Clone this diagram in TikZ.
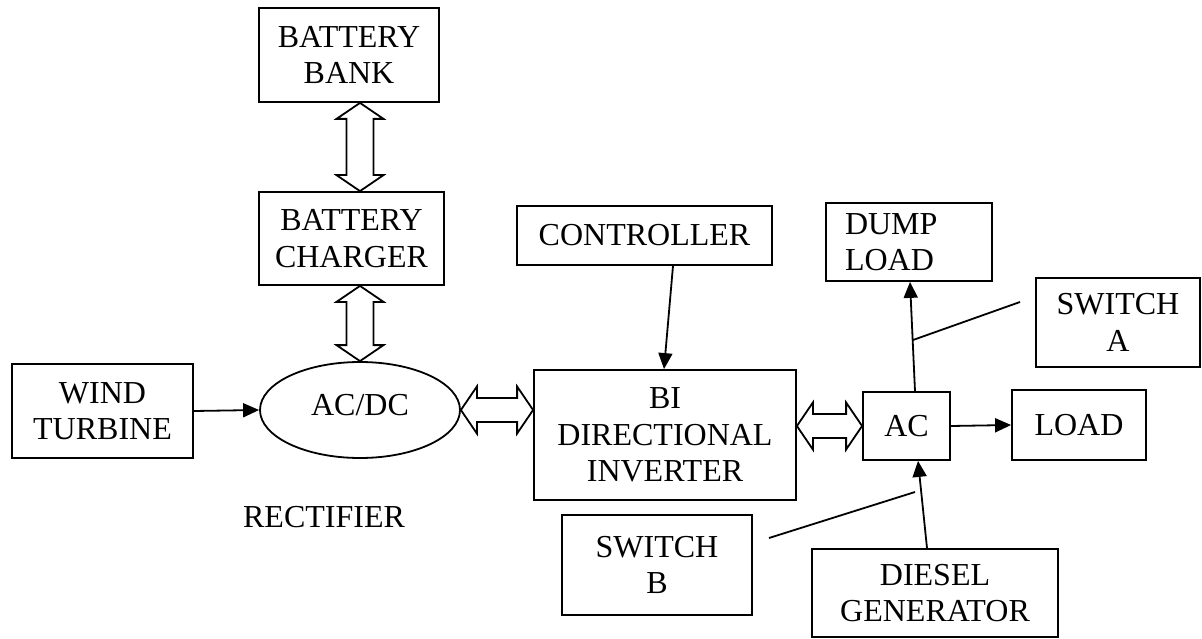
\documentclass[tikz,border=0pt]{standalone}
\usepackage{fontspec}
\setmainfont{Liberation Serif}
\usetikzlibrary{arrows.meta,shapes.geometric,calc}
\tikzset{
  box/.style={draw, line width=1.8pt, rectangle, inner sep=0pt, align=center,
    font=\fontsize{32}{36.5}\selectfont},
  oval/.style={draw, line width=1.8pt, ellipse, inner sep=0pt,
    font=\fontsize{32}{36.5}\selectfont},
  lbl/.style={inner sep=0pt, font=\fontsize{32}{36.5}\selectfont},
  arr/.style={line width=1.8pt, -{Triangle[length=16pt,width=14pt]}},
  plain/.style={line width=1.8pt},
  blk/.style={draw, line width=1.8pt, fill=white, line join=miter}
}
\newcommand{\vdbl}[2]{%
  \draw[blk] let \p1=#1, \p2=#2 in
    (\x1,\y1) -- (\x1+23.5pt,\y1-16pt) -- (\x1+13.5pt,\y1-16pt) -- (\x1+13.5pt,\y2+16pt)
    -- (\x1+23.5pt,\y2+16pt) -- (\x1,\y2) -- (\x1-23.5pt,\y2+16pt) -- (\x1-13.5pt,\y2+16pt)
    -- (\x1-13.5pt,\y1-16pt) -- (\x1-23.5pt,\y1-16pt) -- cycle;}
\newcommand{\hdbl}[2]{%
  \draw[blk] let \p1=#1, \p2=#2 in
    (\x1,\y1) -- (\x1+16pt,\y1+23.5pt) -- (\x1+16pt,\y1+12pt) -- (\x2-16pt,\y1+12pt)
    -- (\x2-16pt,\y1+23.5pt) -- (\x2,\y1) -- (\x2-16pt,\y1-23.5pt) -- (\x2-16pt,\y1-12pt)
    -- (\x1+16pt,\y1-12pt) -- (\x1+16pt,\y1-23.5pt) -- cycle;}
\begin{document}
\begin{tikzpicture}[x=1pt,y=-1pt]
\useasboundingbox (0,0) rectangle (1202,639);
% boxes
\node[box, minimum width=180pt, minimum height=94pt] (bank) at (349,55) {BATTERY\\BANK};
\node[box, minimum width=185pt, minimum height=93pt] (charger) at (351.5,238.5) {BATTERY\\CHARGER};
\node[box, minimum width=181pt, minimum height=94pt] (wind) at (102.5,411) {WIND\\TURBINE};
\node[oval, minimum width=200pt, minimum height=96pt] (acdc) at (360,410) {};
\node[lbl] (acdctxt) at (360,405) {AC/DC};
\node[lbl] (rect) at (324,517) {RECTIFIER};
\node[box, minimum width=255pt, minimum height=59pt] (ctrl) at (644.5,235.5) {CONTROLLER};
\node[box, minimum width=262pt, minimum height=130pt] (inv) at (665,435) {BI\\DIRECTIONAL\\INVERTER};
\node[box, minimum width=87pt, minimum height=68pt] (ac) at (906.5,426) {AC};
\node[box, minimum width=134pt, minimum height=70pt] (load) at (1079,425) {LOAD};
\node[box, minimum width=166pt, minimum height=78pt, text width=128pt, inner xsep=19pt, align=left] (dump) at (909,242) {DUMP\\LOAD};
\node[box, minimum width=164pt, minimum height=89pt] (swa) at (1118,322.5) {SWITCH\\A};
\node[box, minimum width=190pt, minimum height=100pt] (swb) at (657,565) {SWITCH\\B};
\node[box, minimum width=246pt, minimum height=88pt] (diesel) at (935,593) {DIESEL\\GENERATOR};
% hollow double arrows
\vdbl{(bank.south -| acdc.north)}{(charger.north -| acdc.north)}
\vdbl{(charger.south -| acdc.north)}{(acdc.north)}
\hdbl{(acdc.east)}{(inv.west |- acdc.east)}
\hdbl{(inv.east |- ac.west)}{(ac.west)}
% arrows
\draw[arr] (wind.east) -- (acdc.west);
\draw[arr] ($(ctrl.south)+(28.5,0)$) -- ($(inv.north)+(-1,0)$);
\draw[arr] (ac.east) -- (load.west);
\draw[arr] ($(ac.north)+(8.5,0)$) -- ($(dump.south)+(1,0)$);
\draw[arr] ($(diesel.north)+(-8,0)$) -- ($(ac.south)+(11.5,0)$);
% switch lines
\coordinate (swaend) at (1020,302);
\coordinate (swatip) at (913,340);
\coordinate (swbend) at (769,538);
\coordinate (swbtip) at (915,492);
\draw[plain] (swaend) -- (swatip);
\draw[plain] (swbend) -- (swbtip);
\end{tikzpicture}
\end{document}
